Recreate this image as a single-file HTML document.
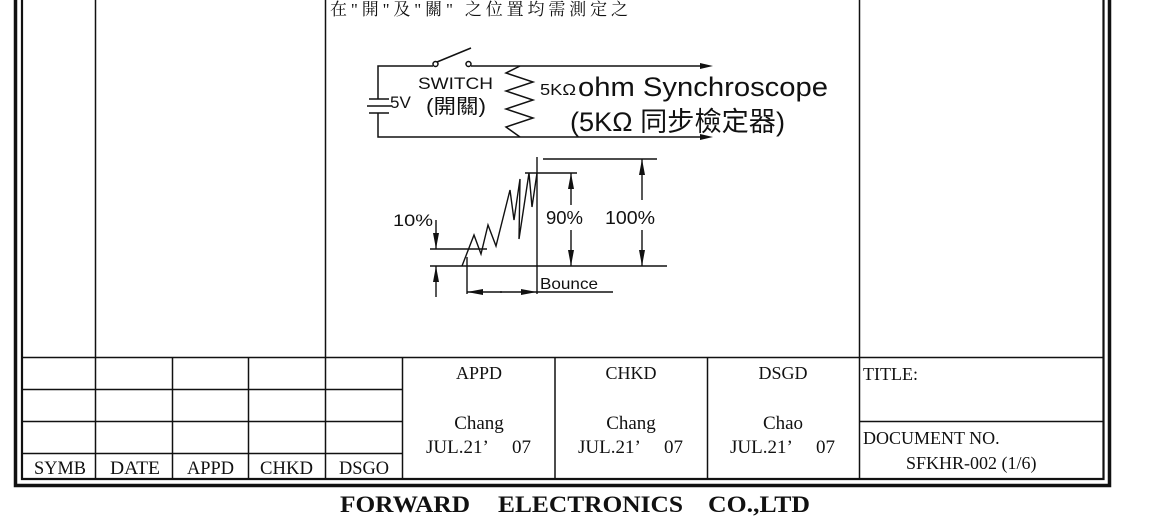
<!DOCTYPE html>
<html><head><meta charset="utf-8"><style>
html,body{margin:0;padding:0;background:#fff;width:1150px;height:525px;overflow:hidden}
svg{display:block}
.t{font-family:"Liberation Serif","Noto Serif CJK SC",serif;fill:#111}
.s{font-family:"Liberation Sans","Noto Sans CJK TC",sans-serif;fill:#111}
</style></head><body>
<svg width="1150" height="525" viewBox="0 0 1150 525" xmlns="http://www.w3.org/2000/svg">
<defs>
<marker id="b" viewBox="0 0 16 6" refX="16" refY="3" markerWidth="16" markerHeight="6" orient="auto" markerUnits="userSpaceOnUse"><path d="M0,0 L16,3 L0,6z" fill="#111"/></marker>
</defs>
<g stroke="#111" fill="none">
<path d="M15.5,0 V485.5 H1109.5 V0" stroke-width="3.5"/>
<path d="M22,0 V479 H1103.5 V0" stroke-width="2.2"/>
<g stroke-width="1.5">
<line x1="95.5" y1="0" x2="95.5" y2="479"/>
<line x1="325.5" y1="0" x2="325.5" y2="479"/>
<line x1="859.5" y1="0" x2="859.5" y2="479"/>
<line x1="22" y1="357.5" x2="1103" y2="357.5"/>
<line x1="22" y1="389.5" x2="402" y2="389.5"/>
<line x1="22" y1="421.5" x2="402" y2="421.5"/>
<line x1="22" y1="453.5" x2="402" y2="453.5"/>
<line x1="172.5" y1="357" x2="172.5" y2="479"/>
<line x1="248.5" y1="357" x2="248.5" y2="479"/>
<line x1="402.5" y1="357" x2="402.5" y2="479"/>
<line x1="555" y1="357" x2="555" y2="479"/>
<line x1="707.5" y1="357" x2="707.5" y2="479"/>
<line x1="859" y1="421.5" x2="1103" y2="421.5"/>
</g>
<g stroke-width="1.5">
<path d="M433,66 H378 V99 M378,113 V137 H700"/>
<line x1="369" y1="99" x2="389" y2="99"/>
<line x1="367" y1="106" x2="391" y2="106"/>
<line x1="369" y1="113" x2="389" y2="113"/>
<circle cx="435.5" cy="64" r="2.5"/>
<circle cx="468.5" cy="64" r="2.5"/>
<line x1="437" y1="62" x2="471" y2="48"/>
<path d="M471,66 H700"/>
<path d="M520,66 L506,73 L533,82 L506,91 L533,100 L506,109 L533,118 L506,127 L520,137"/>
</g>
<path d="M700,63 L713,66 L700,69z" fill="#111" stroke="none"/>
<path d="M700,134 L713,137 L700,140z" fill="#111" stroke="none"/>
<g stroke-width="1.4">
<line x1="430" y1="266" x2="667" y2="266"/>
<line x1="430" y1="249" x2="487" y2="249"/>
<line x1="525" y1="173" x2="577" y2="173"/>
<line x1="543" y1="159" x2="657" y2="159"/>
<line x1="537" y1="157" x2="537" y2="294"/>
<line x1="467" y1="257" x2="467" y2="294"/>
<line x1="537" y1="292" x2="613" y2="292"/>
<polyline points="462,266 474,235 481,254 488,225 496,246 510,190 514,220 520,179 519,239 529,173 532,207 537,173"/>
<line x1="436" y1="220" x2="436" y2="249" marker-end="url(#b)"/>
<line x1="436" y1="297" x2="436" y2="266" marker-end="url(#b)"/>
<line x1="571" y1="205" x2="571" y2="173" marker-end="url(#b)"/>
<line x1="571" y1="230" x2="571" y2="266" marker-end="url(#b)"/>
<line x1="642" y1="200" x2="642" y2="159" marker-end="url(#b)"/>
<line x1="642" y1="230" x2="642" y2="266" marker-end="url(#b)"/>
<line x1="502" y1="292" x2="467" y2="292" marker-end="url(#b)"/>
<line x1="500" y1="292" x2="537" y2="292" marker-end="url(#b)"/>
</g>
</g>
<text x="330" y="15" class="t" font-size="17" textLength="298" lengthAdjust="spacing">在"開"及"關" 之位置均需測定之</text>
<text x="418" y="89" class="s" font-size="17" textLength="75" lengthAdjust="spacingAndGlyphs">SWITCH</text>
<text x="390" y="108" class="s" font-size="17">5V</text>
<text x="426" y="113" class="s" font-size="20" textLength="60" lengthAdjust="spacingAndGlyphs">(開關)</text>
<text x="540" y="95" class="s" font-size="16" textLength="36" lengthAdjust="spacingAndGlyphs">5KΩ</text>
<text x="578" y="96" class="s" font-size="27" textLength="250" lengthAdjust="spacingAndGlyphs">ohm Synchroscope</text>
<text x="570" y="131" class="s" font-size="27" textLength="215" lengthAdjust="spacingAndGlyphs">(5KΩ 同步檢定器)</text>
<text x="393" y="226" class="s" font-size="17" textLength="40" lengthAdjust="spacingAndGlyphs">10%</text>
<text x="546" y="224" class="s" font-size="18" textLength="37" lengthAdjust="spacingAndGlyphs">90%</text>
<text x="605" y="224" class="s" font-size="18" textLength="50" lengthAdjust="spacingAndGlyphs">100%</text>
<text x="540" y="289" class="s" font-size="16" textLength="58" lengthAdjust="spacingAndGlyphs">Bounce</text>
<g class="t" font-size="19">
<text x="34" y="474" textLength="52" lengthAdjust="spacingAndGlyphs">SYMB</text>
<text x="110" y="474" textLength="50" lengthAdjust="spacingAndGlyphs">DATE</text>
<text x="187" y="474" textLength="47" lengthAdjust="spacingAndGlyphs">APPD</text>
<text x="260" y="474" textLength="53" lengthAdjust="spacingAndGlyphs">CHKD</text>
<text x="339" y="474" textLength="50" lengthAdjust="spacingAndGlyphs">DSGO</text>
</g>
<g class="t" font-size="18" text-anchor="middle">
<text x="479" y="379">APPD</text>
<text x="631" y="379">CHKD</text>
<text x="783" y="379">DSGD</text>
<text x="479" y="429" font-size="19">Chang</text>
<text x="631" y="429" font-size="19">Chang</text>
<text x="783" y="429" font-size="19">Chao</text>
</g>
<g class="t" font-size="19">
<text x="426" y="453">JUL.21’</text><text x="512" y="453">07</text>
<text x="578" y="453">JUL.21’</text><text x="664" y="453">07</text>
<text x="730" y="453">JUL.21’</text><text x="816" y="453">07</text>
</g>
<text x="863" y="380" class="t" font-size="18">TITLE:</text>
<text x="863" y="444" class="t" font-size="18">DOCUMENT NO.</text>
<text x="906" y="469" class="t" font-size="18">SFKHR-002 (1/6)</text>
<g class="t" font-size="23" font-weight="bold">
<text x="340" y="512" textLength="130" lengthAdjust="spacingAndGlyphs">FORWARD</text>
<text x="498" y="512" textLength="185" lengthAdjust="spacingAndGlyphs">ELECTRONICS</text>
<text x="708" y="512" textLength="102" lengthAdjust="spacingAndGlyphs">CO.,LTD</text>
</g>
</svg>
</body></html>
